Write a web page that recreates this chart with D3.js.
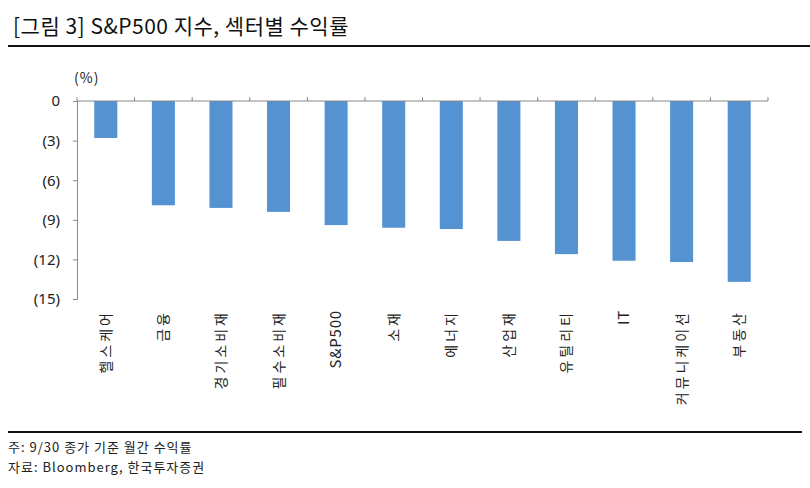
<!DOCTYPE html>
<html>
<head>
<meta charset="utf-8">
<script src="https://cdn.jsdelivr.net/npm/d3@7"></script>
<style>
  body { margin: 0; background: #fff; }
  text { font-family: "Noto Sans CJK KR", "Noto Sans", sans-serif; }
</style>
</head>
<body>
<svg id="chart" width="810" height="488"></svg>
<script>
const sectors = ['헬스케어', '금융', '경기소비재', '필수소비재', 'S&P500', '소재', '에너지', '산업재', '유틸리티', 'IT', '커뮤니케이션', '부동산']
const returns = [-2.8, -7.9, -8.1, -8.4, -9.4, -9.6, -9.7, -10.6, -11.6, -12.1, -12.2, -13.7]
const yTicks = [0, -3, -6, -9, -12, -15]

const svg = d3.select('#chart')
const plot = { left: 77, right: 768, top: 101, bottom: 299 }

// title + rules
svg.append('text')
    .attr('x', 13).attr('y', 34)
    .attr('font-size', 21).attr('fill', '#111')
    .attr('letter-spacing', 0.5)
    .text('[그림 3] S&P500 지수, 섹터별 수익률')
svg.append('line')
    .attr('x1', 8).attr('x2', 810).attr('y1', 46).attr('y2', 46)
    .attr('stroke', '#111').attr('stroke-width', 2)
svg.append('line')
    .attr('x1', 8).attr('x2', 802).attr('y1', 432).attr('y2', 432)
    .attr('stroke', '#111').attr('stroke-width', 2)

const x = d3.scaleBand()
    .domain(sectors)
    .range([plot.left, plot.right])
    .paddingInner(0.6)
    .paddingOuter(0.3)

const y = d3.scaleLinear()
    .domain([0, -15])
    .range([plot.top, plot.bottom])

// bars
svg.selectAll('rect.bar')
    .data(sectors)
    .join('rect')
    .attr('class', 'bar')
    .attr('x', d => x(d))
    .attr('width', x.bandwidth())
    .attr('y', y(0))
    .attr('height', (d, i) => y(returns[i]) - y(0))
    .attr('fill', '#5592d1')

// y axis
const yAxis = svg.append('g')
    .attr('transform', `translate(${plot.left},0)`)
    .call(d3.axisLeft(y).tickValues(yTicks).tickSize(4).tickPadding(13)
        .tickFormat(d => d === 0 ? '0' : `(${Math.abs(d)})`))
yAxis.select('.domain').attr('stroke', '#888')
yAxis.selectAll('.tick line').attr('stroke', '#888')
yAxis.selectAll('text')
    .attr('font-size', 15).attr('fill', '#222')
    .style('font-family', '"Noto Sans", sans-serif')

svg.append('text')
    .attr('x', 74).attr('y', 83)
    .attr('font-size', 14).attr('fill', '#222')
    .attr('letter-spacing', 1)
    .text('(%)')

// x axis at zero with ticks between categories
const edges = d3.range(sectors.length + 1).map(i => plot.left + i * (plot.right - plot.left) / sectors.length)
svg.append('line')
    .attr('x1', plot.left).attr('x2', plot.right)
    .attr('y1', y(0)).attr('y2', y(0))
    .attr('stroke', '#888')
svg.selectAll('line.xtick')
    .data(edges)
    .join('line')
    .attr('class', 'xtick')
    .attr('x1', d => d).attr('x2', d => d)
    .attr('y1', y(0)).attr('y2', y(0) - 4)
    .attr('stroke', '#888')

// category labels, rotated; latin names get less spacing
const latin = d => /^[A-Za-z0-9&]+$/.test(d)
svg.selectAll('text.cat')
    .data(sectors)
    .join('text')
    .attr('class', 'cat')
    .attr('transform', d => `translate(${x(d) + x.bandwidth() / 2 + 5},310) rotate(-90)`)
    .attr('text-anchor', 'end')
    .attr('font-size', d => latin(d) ? 15 : 14)
    .attr('fill', '#222')
    .attr('letter-spacing', d => latin(d) ? 0.8 : 3)
    .text(d => d)

// footnotes
svg.append('text')
    .attr('x', 8).attr('y', 452)
    .attr('font-size', 13).attr('fill', '#222')
    .attr('letter-spacing', 1)
    .text('주: 9/30 종가 기준 월간 수익률')
svg.append('text')
    .attr('x', 8).attr('y', 472)
    .attr('font-size', 13).attr('fill', '#222')
    .attr('letter-spacing', 1)
    .text('자료: Bloomberg, 한국투자증권')
</script>
</body>
</html>
